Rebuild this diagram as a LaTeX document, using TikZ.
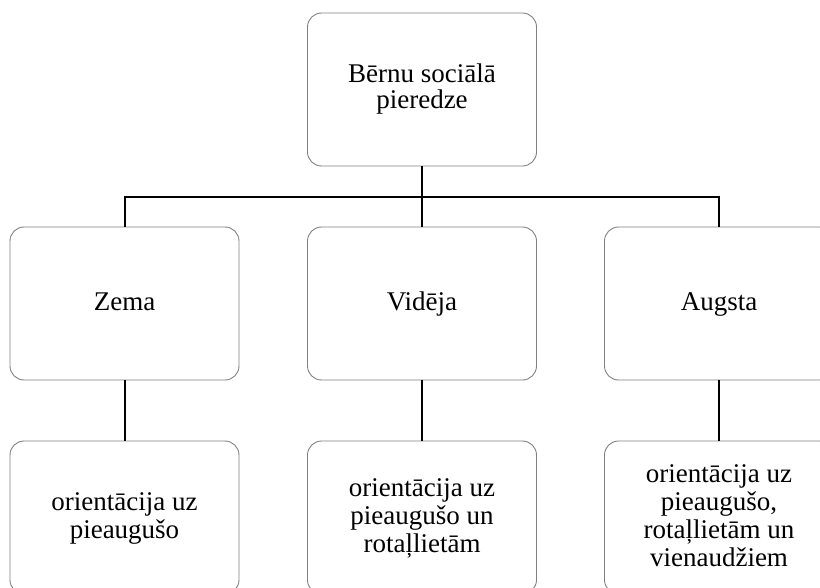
\documentclass[tikz,border=0pt]{standalone}
\usepackage{fontspec}
\newfontfamily\tnr{Liberation Serif}
\newcommand{\ms}{\rule[-7pt]{0pt}{28pt}}
\newcommand{\mt}{\rule[-7pt]{0pt}{26pt}}
\begin{document}
\begin{tikzpicture}[x=1pt,y=-1pt]
\tikzset{box/.style={draw=black!50, line width=0.9pt, rounded corners=14pt,
    minimum width=229pt, minimum height=153pt, inner sep=0pt, align=center,
    font=\tnr\fontsize{27}{28}\selectfont},
  topbox/.style={box, font=\tnr\fontsize{27}{26}\selectfont},
  conn/.style={draw=black, line width=2pt}}
\useasboundingbox (0,0) rectangle (820,588);
\node[topbox] (top) at (422,89.5) {\mt Bērnu sociālā\\\mt pieredze};
\node[box] (zema) at (124.5,303.5) {\ms Zema};
\node[box] (vid) at (422,303.5) {\ms Vidēja};
\node[box] (aug) at (719,303.5) {\ms Augsta};
\node[box] (z2) at (124.5,517.5) {\ms orientācija uz\\\ms pieaugušo};
\node[box] (v2) at (422,517.5) {\ms orientācija uz\\\ms pieaugušo un\\\ms rotaļlietām};
\node[box] (a2) at (719,517.5) {\ms orientācija uz\\\ms pieaugušo,\\\ms rotaļlietām un\\\ms vienaudžiem};
\coordinate (bar) at (422,197);
\draw[conn] (top.south) -- (vid.north);
\draw[conn] (zema.north) |- (bar) -| (aug.north);
\draw[conn] (zema.south) -- (z2.north);
\draw[conn] (vid.south) -- (v2.north);
\draw[conn] (aug.south) -- (a2.north);
\end{tikzpicture}
\end{document}
